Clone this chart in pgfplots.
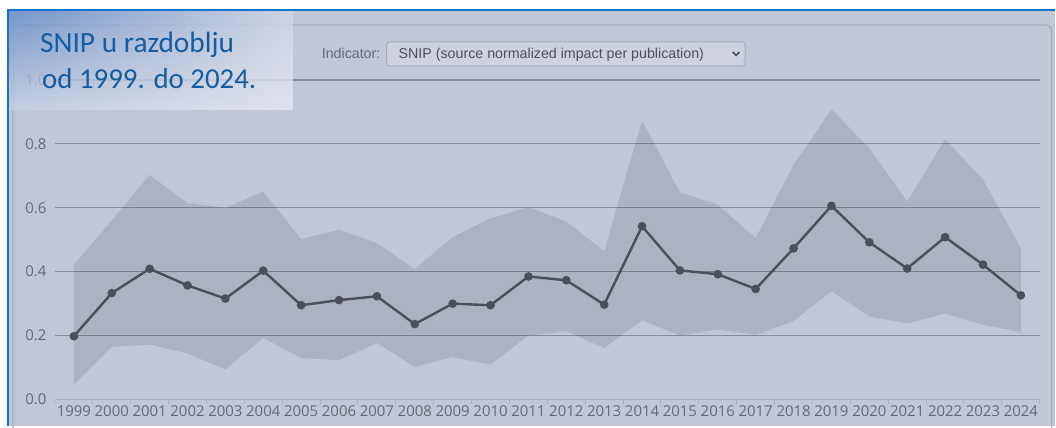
\documentclass[border=0pt]{standalone}
\usepackage{pgfplots}
\pgfplotsset{compat=1.18}
\usetikzlibrary{shadings}
\usepackage{fontspec}
\setmainfont{Open Sans}
\newfontfamily\arial{Liberation Sans}
\newfontfamily\calibri{Carlito}

\definecolor{bg}{RGB}{193,199,214}
\definecolor{blueb}{RGB}{25,115,200}
\definecolor{innerb}{RGB}{166,172,187}
\definecolor{gridcol}{RGB}{135,141,155}
\definecolor{axiscol}{RGB}{170,176,190}
\definecolor{linecol}{RGB}{75,79,88}
\definecolor{tickcol}{RGB}{100,105,115}
\definecolor{titlecol}{RGB}{22,92,160}
\definecolor{ovUL}{RGB}{95,138,198}
\definecolor{ovUR}{RGB}{210,215,232}
\definecolor{ovLL}{RGB}{200,209,230}
\definecolor{ovLR}{RGB}{232,234,242}

\begin{document}
\begin{tikzpicture}
\begin{scope}[x=1bp,y=1bp]
\path[use as bounding box] (0,0) rectangle (1056,427);
\fill[white] (0,0) rectangle (1056,427);
\fill[bg] (8,0) rectangle (1056,417);
\draw[innerb, line width=1.2bp, rounded corners=6bp] (13,-10) rectangle (1053,402);

% indicator selector
\node[anchor=base east, inner sep=0, text=tickcol, font=\arial\fontsize{14.3}{16}\selectfont] at (381,368) {Indicator:};
\draw[innerb, fill=bg!80!white, rounded corners=3bp, line width=1bp] (387,361) rectangle (746,385);
\node[anchor=base west, inner sep=0, text=linecol, font=\arial\fontsize{14.3}{16}\selectfont] at (399,368) {SNIP (source normalized impact per publication)};
\draw[linecol, line width=1.6bp] (733.5,375) -- (737,371.5) -- (740.5,375);
\end{scope}

\begin{axis}[
    at={(55bp,27bp)}, anchor=south west,
    scale only axis, width=986bp, height=320bp,
    xmin=1998.5, xmax=2024.5, ymin=0, ymax=1,
    axis line style={draw=none},
    xtick={1999,2000,...,2024},
    xticklabels={1999,2000,2001,2002,2003,2004,2005,2006,2007,2008,2009,2010,2011,2012,2013,2014,2015,2016,2017,2018,2019,2020,2021,2022,2023,2024},
    minor xtick={1998.5,1999.5,...,2024.5},
    ytick={0.2,0.4,0.6,0.8,1.0},
    yticklabels={0.2,0.4,0.6,0.8,1.0},
    extra y ticks={0},
    extra y tick labels={0.0},
    extra y tick style={grid style={axiscol, line width=1.6bp}},
    ymajorgrids,
    grid style={gridcol, line width=1.3bp},
    major tick length=0pt, minor tick length=4bp,
    tick align=outside, xtick pos=bottom, ytick pos=left,
    tick style={axiscol, line width=1bp},
    ticklabel style={text=tickcol, font=\fontsize{15}{17}\selectfont},
    xticklabel style={anchor=north, yshift=-3bp},
    yticklabel style={anchor=east, xshift=-5bp},
    clip=false,
]
% band: upper bound left to right, then lower bound right to left
\addplot[fill=black, fill opacity=0.1, draw=none] coordinates {
(1999,0.422)(2000,0.560)(2001,0.703)(2002,0.615)(2003,0.599)(2004,0.651)
(2005,0.502)(2006,0.531)(2007,0.490)(2008,0.408)(2009,0.508)(2010,0.567)
(2011,0.602)(2012,0.557)(2013,0.464)(2014,0.873)(2015,0.648)(2016,0.609)
(2017,0.505)(2018,0.734)(2019,0.908)(2020,0.786)(2021,0.620)(2022,0.815)
(2023,0.688)(2024,0.474)
(2024,0.211)(2023,0.234)(2022,0.269)(2021,0.238)(2020,0.260)(2019,0.339)
(2018,0.245)(2017,0.203)(2016,0.219)(2015,0.200)(2014,0.248)(2013,0.161)
(2012,0.214)(2011,0.200)(2010,0.109)(2009,0.133)(2008,0.102)(2007,0.177)
(2006,0.123)(2005,0.130)(2004,0.193)(2003,0.094)(2002,0.144)(2001,0.172)
(2000,0.165)(1999,0.047)
} -- cycle;
\addplot[linecol, line width=2.4bp, mark=*, mark size=3.8bp,
    mark options={fill=linecol, draw=linecol, line width=1bp}] coordinates {
(1999,0.198)(2000,0.333)(2001,0.409)(2002,0.357)(2003,0.316)(2004,0.403)
(2005,0.295)(2006,0.311)(2007,0.323)(2008,0.236)(2009,0.300)(2010,0.295)
(2011,0.385)(2012,0.373)(2013,0.297)(2014,0.542)(2015,0.404)(2016,0.392)
(2017,0.346)(2018,0.473)(2019,0.606)(2020,0.492)(2021,0.410)(2022,0.508)
(2023,0.422)(2024,0.326)
};
\end{axis}

\begin{scope}[x=1bp,y=1bp]
\draw[blueb, line width=2.5bp] (8,0) -- (8,417) -- (1056,417);
% title overlay
\shade[fill opacity=0.78, upper left=ovUL, upper right=ovUR,
    lower left=ovLL, lower right=ovLR]
    (9.25,317) rectangle (293,415.75);
\node[anchor=base west, inner sep=0, text=titlecol, font=\calibri\fontsize{29.5}{32}\selectfont] at (40,374) {SNIP u razdoblju};
\node[anchor=base west, inner sep=0, text=titlecol, font=\calibri\fontsize{29}{32}\selectfont] at (42,338) {od 1999. do 2024.};
\end{scope}
\end{tikzpicture}
\end{document}
